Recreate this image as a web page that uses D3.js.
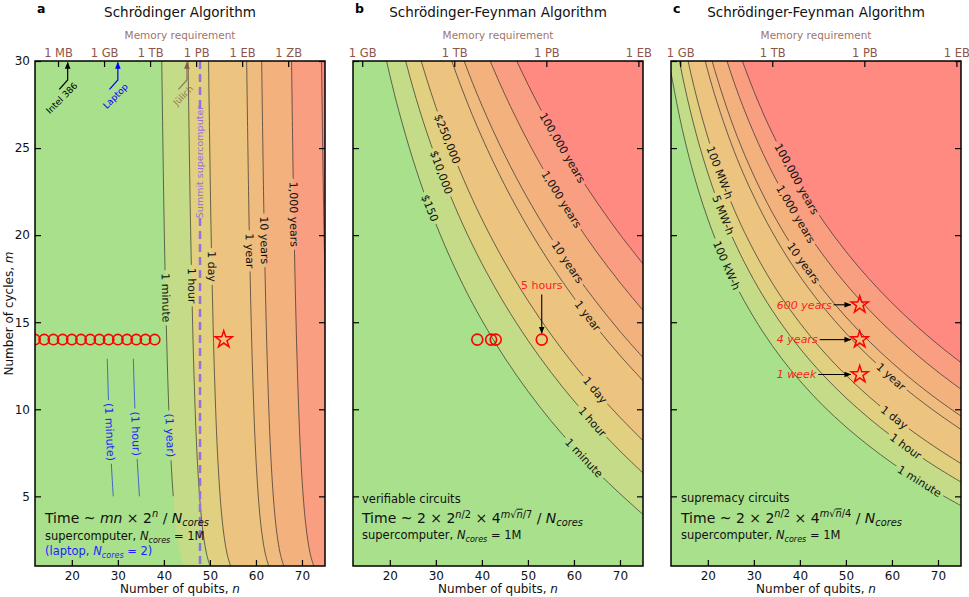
<!DOCTYPE html>
<html>
<head>
<meta charset="utf-8">
<script src="https://cdn.jsdelivr.net/npm/d3@7"></script>
<style>
  body { margin: 0; background: #fff; }
  svg text { font-family: "DejaVu Sans", sans-serif; }
</style>
</head>
<body>
<svg id="fig" width="969" height="597"></svg>
<script>
// ---- data ----
var qubitRange = [12, 75]
var cycleRange = [1, 30]
var qubitTicks = [20, 30, 40, 50, 60, 70]
var cycleTicks = [5, 10, 15, 20, 25, 30]

var memTicksA = [17, 27, 37, 47, 57, 67]
var memLabelsA = ["1 MB", "1 GB", "1 TB", "1 PB", "1 EB", "1 ZB"]
var memTicksBC = [14, 34, 54, 74]
var memLabelsBC = ["1 GB", "1 TB", "1 PB", "1 EB"]

var panelLetters = ["a", "b", "c"]
var panelTitles = ["Schrödinger Algorithm", "Schrödinger-Feynman Algorithm", "Schrödinger-Feynman Algorithm"]
var timeLevels = ["1 minute", "1 hour", "1 day", "1 year", "10 years", "1,000 years", "100,000 years"]
var costLabels = ["$150", "$10,000", "$250,000"]
var energyLabels = ["100 kW-h", "5 MW-h", "100 MW-h"]
var laptopLabels = ["(1 minute)", "(1 hour)", "(1 year)"]

// contour lines [qubits n, cycles m], one per time level
var contoursA = [
  [[39.54,30],[40.10,20],[40.82,12],[41.56,7],[42.35,4],[43.00,2.5],[43.62,1.6],[44.28,1]],
  [[45.25,30],[45.83,20],[46.54,12],[47.28,7],[48.07,4],[48.73,2.5],[49.36,1.6],[50.02,1]],
  [[49.70,30],[50.27,20],[50.99,12],[51.74,7],[52.53,4],[53.19,2.5],[53.81,1.6],[54.48,1]],
  [[57.98,30],[58.56,20],[59.28,12],[60.03,7],[60.82,4],[61.49,2.5],[62.12,1.6],[62.78,1]],
  [[61.24,30],[61.81,20],[62.54,12],[63.29,7],[64.08,4],[64.74,2.5],[65.37,1.6],[66.04,1]],
  [[67.73,30],[68.30,20],[69.03,12],[69.78,7],[70.58,4],[71.25,2.5],[71.87,1.6],[72.54,1]],
  [[74.24,30],[74.81,20],[75.54,12],[76.30,7],[77.10,4],[77.80,2.5],[78.40,1.6],[79.00,1]]
]
var laptopA = [
  [[27.70,12.9],[27.97,10.5],[28.35,8],[29.00,5]],
  [[33.36,12.9],[33.64,10.5],[34.02,8],[34.69,5]]
]
var contoursB = [
  [[16,34.39],[18,31.59],[20,29.19],[22,27.09],[25,24.36],[28,22.02],[32,19.37],[36,17.09],[40,15.11],[45,12.94],[50,11.04],[55,9.34],[60,7.82],[65,6.42],[70,5.15],[75,3.96]],
  [[18,36.46],[20,33.81],[22,31.49],[25,28.49],[28,25.93],[32,23.02],[36,20.53],[40,18.37],[45,16.02],[50,13.96],[55,12.13],[60,10.48],[65,8.99],[70,7.61],[75,6.34]],
  [[20,37.41],[22,34.93],[25,31.71],[28,28.97],[32,25.86],[36,23.22],[40,20.92],[45,18.42],[50,16.24],[55,14.30],[60,12.56],[65,10.98],[70,9.54],[75,8.20]],
  [[25,37.66],[28,34.59],[32,31.12],[36,28.17],[40,25.62],[45,22.85],[50,20.44],[55,18.31],[60,16.40],[65,14.67],[70,13.09],[75,11.64]],
  [[28,36.77],[32,33.16],[36,30.10],[40,27.45],[45,24.58],[50,22.08],[55,19.87],[60,17.89],[65,16.11],[70,14.47],[75,12.97]],
  [[32,37.31],[36,34.01],[40,31.16],[45,28.07],[50,25.39],[55,23.03],[60,20.92],[65,19.01],[70,17.28],[75,15.68]],
  [[36,37.86],[40,34.81],[45,31.52],[50,28.66],[55,26.14],[60,23.90],[65,21.88],[70,20.04],[75,18.35]]
]
var contoursC = [
  [[12,29.33],[14,26.62],[16,24.40],[18,22.53],[20,20.93],[22,19.53],[25,17.72],[28,16.18],[32,14.43],[36,12.93],[40,11.64],[45,10.22],[50,8.99],[55,7.90],[60,6.92],[65,6.03],[70,5.21],[75,4.46]],
  [[12,32.74],[14,29.77],[16,27.35],[18,25.31],[20,23.57],[22,22.04],[25,20.08],[28,18.41],[32,16.51],[36,14.90],[40,13.50],[45,11.98],[50,10.66],[55,9.49],[60,8.44],[65,7.49],[70,6.62],[75,5.82]],
  [[14,32.23],[16,29.65],[18,27.48],[20,25.62],[22,24.01],[25,21.92],[28,20.15],[32,18.14],[36,16.43],[40,14.96],[45,13.35],[50,11.96],[55,10.73],[60,9.63],[65,8.63],[70,7.72],[75,6.88]],
  [[18,31.49],[20,29.43],[22,27.63],[25,25.32],[28,23.36],[32,21.15],[36,19.27],[40,17.64],[45,15.89],[50,14.37],[55,13.03],[60,11.83],[65,10.74],[70,9.75],[75,8.84]],
  [[18,33.05],[20,30.90],[22,29.04],[25,26.64],[28,24.61],[32,22.31],[36,20.37],[40,18.69],[45,16.87],[50,15.30],[55,13.92],[60,12.68],[65,11.56],[70,10.54],[75,9.61]],
  [[20,33.90],[22,31.89],[25,29.32],[28,27.14],[32,24.68],[36,22.60],[40,20.81],[45,18.87],[50,17.19],[55,15.72],[60,14.41],[65,13.22],[70,12.14],[75,11.15]],
  [[22,34.71],[25,31.96],[28,29.64],[32,27.01],[36,24.80],[40,22.89],[45,20.84],[50,19.06],[55,17.50],[60,16.11],[65,14.86],[70,13.72],[75,12.68]]
]

var circlesA = [12, 14, 16, 18, 20, 22, 24, 26, 28, 30, 32, 34, 36, 38]
var circlesB = [39, 42, 43, 53]
var circleCycles = 14
var starA = [53, 14]
var starsC = [[53, 16], [53, 14], [53, 12]]
var starLabelsC = ["600 years", "4 years", "1 week"]
var summitQubits = 47.85
var machines = ["Intel 386", "Laptop", "Jülich"]
var machineQubits = [19.1, 30, 45]

// ---- styles ----
var bandColors = ["#a8e08c", "#c4dc88", "#e0d07f", "#edc380", "#efbb7f", "#f3b17e", "#f99e80", "#ff8a82"]
var brown = "#8c564b"
var machineColors = ["#000", "#0000ff", brown]

var W = 290, H = 505, TOP = 61
var panelLeft = [35, 353, 671]

var x = d3.scaleLinear().domain(qubitRange).range([0, W])
var y = d3.scaleLinear().domain(cycleRange).range([H, 0])
var line = d3.line().x(d => x(d[0])).y(d => y(d[1])).curve(d3.curveCatmullRom)

var svg = d3.select("#fig")
var defs = svg.append("defs")

function arrowMarker(id, color) {
    defs.append("marker").attr("id", id)
        .attr("viewBox", "0 0 10 10").attr("refX", 9).attr("refY", 5)
        .attr("markerWidth", 7).attr("markerHeight", 7)
        .attr("markerUnits", "userSpaceOnUse").attr("orient", "auto")
        .append("path").attr("d", "M0,1L10,5L0,9z").attr("fill", color)
}
arrowMarker("arr0", machineColors[0])
arrowMarker("arr1", machineColors[1])
arrowMarker("arr2", brown)

defs.append("clipPath").attr("id", "clipAbove5")
    .append("rect").attr("width", W).attr("height", y(5))

function pointAt(pts, key, v) {
    for (var j = 0; j < pts.length - 1; j++) {
        var a = pts[j][key], b = pts[j + 1][key]
        if ((v - a) * (v - b) <= 0) {
            var t = (v - a) / (b - a)
            var n = pts[j][0] + t * (pts[j + 1][0] - pts[j][0])
            var m = pts[j][1] + t * (pts[j + 1][1] - pts[j][1])
            var ang = Math.atan2(y(pts[j + 1][1]) - y(pts[j][1]), x(pts[j + 1][0]) - x(pts[j][0])) * 180 / Math.PI
            return {px: x(n), py: y(m), ang: ang}
        }
    }
    return null
}

// text with italics, super- and subscripts
function rich(sel, px, py, size, color, parts) {
    var t = sel.append("text").attr("x", px).attr("y", py)
        .attr("font-size", size).attr("fill", color)
    var shift = 0
    parts.forEach(function(p) {
        var s = p[1] || ""
        var ts = t.append("tspan").text(p[0])
        var target = 0
        if (s.indexOf("sup") >= 0) target = -0.4 * size
        if (s.indexOf("sub") >= 0) target = 0.22 * size
        if (target - shift !== 0) ts.attr("dy", target - shift)
        shift = target
        if (target !== 0) ts.attr("font-size", size * 0.7)
        if (s[0] === "i") ts.attr("font-style", "italic")
        if (s.indexOf("ov") >= 0) ts.attr("text-decoration", "overline")
    })
    return t
}

function drawPanel(i, cfg) {
    var g = svg.append("g").attr("transform", `translate(${panelLeft[i]},${TOP})`)
    defs.append("clipPath").attr("id", "clip" + i)
        .append("rect").attr("width", W).attr("height", H)

    var plot = g.append("g").attr("clip-path", `url(#clip${i})`)
    plot.append("rect").attr("width", W).attr("height", H).attr("fill", bandColors[0])

    // filled bands: region above/right of each contour
    cfg.contours.forEach(function(pts, k) {
        var first = pts[0], last = pts[pts.length - 1]
        var d = line(pts) +
            "L" + x(90) + "," + y(last[1]) +
            "L" + x(90) + "," + y(40) +
            "L" + x(first[0]) + "," + y(40) + "Z"
        plot.append("path").attr("d", d).attr("fill", bandColors[k + 1])
    })

    // contour lines with gaps under their labels
    var mask = defs.append("mask").attr("id", "mask" + i)
        .attr("maskUnits", "userSpaceOnUse")
        .attr("x", -5).attr("y", -5).attr("width", W + 10).attr("height", H + 10)
    mask.append("rect").attr("x", -5).attr("y", -5)
        .attr("width", W + 10).attr("height", H + 10).attr("fill", "white")
    var lines = plot.append("g").attr("mask", `url(#mask${i})`)
    cfg.contours.forEach(function(pts, k) {
        lines.append("path").attr("d", line(pts))
            .attr("fill", "none").attr("stroke", "#2b2b2b")
            .attr("stroke-width", 0.8).attr("stroke-opacity", 0.85)
            .attr("clip-path", cfg.shortLine === k ? "url(#clipAbove5)" : null)
    })
    ;(cfg.extraLines || []).forEach(function(pts) {
        lines.append("path").attr("d", line(pts))
            .attr("fill", "none").attr("stroke", "#2040e0")
            .attr("stroke-width", 0.9).attr("stroke-opacity", 0.85)
    })

    cfg.labels.forEach(function(lb) {
        var p = pointAt(lb.pts, lb.key, lb.at)
        if (!p) return
        var tr = `translate(${p.px},${p.py}) rotate(${p.ang})`
        var t = plot.append("text").attr("transform", tr)
            .attr("text-anchor", "middle").attr("dy", "0.35em")
            .attr("font-size", 11).attr("fill", lb.color || "#111")
            .text(lb.text)
        var w = t.node().getComputedTextLength()
        mask.append("rect").attr("transform", tr)
            .attr("x", -w / 2 - 3).attr("y", -6).attr("width", w + 6).attr("height", 12)
            .attr("fill", "black")
    })

    if (cfg.extra) cfg.extra(g, plot)

    // axes, ticks pointing inward
    var bottom = g.append("g").attr("transform", `translate(0,${H})`)
        .call(d3.axisBottom(x).tickValues(qubitTicks).tickSizeInner(-6).tickSizeOuter(0).tickPadding(5))
    var left = g.append("g")
        .call(d3.axisLeft(y).tickValues(cycleTicks).tickSizeInner(-6).tickSizeOuter(0).tickPadding(5)
            .tickFormat(i === 0 ? d3.format("d") : ""))
    var right = g.append("g").attr("transform", `translate(${W},0)`)
        .call(d3.axisRight(y).tickValues(cycleTicks).tickSizeInner(-6).tickSizeOuter(0).tickFormat(""))
    var top = g.append("g")
        .call(d3.axisTop(x).tickValues(cfg.memTicks).tickSizeInner(-6).tickSizeOuter(0).tickPadding(4)
            .tickFormat((d, j) => cfg.memLabels[j]))
    ;[bottom, left, right, top].forEach(function(ax) {
        ax.select(".domain").remove()
        ax.selectAll(".tick line").attr("stroke", "#000").attr("stroke-width", 1.2)
        ax.selectAll("text").attr("font-size", 12).attr("fill", "#111")
    })
    top.selectAll("text").attr("fill", brown).attr("font-size", 11.5)

    g.append("rect").attr("width", W).attr("height", H)
        .attr("fill", "none").attr("stroke", "#000").attr("stroke-width", 1.5)

    // titles and axis labels
    g.append("text").attr("x", 2).attr("y", 12.5 - TOP)
        .attr("font-size", 12.5).attr("font-weight", "bold").text(panelLetters[i])
    g.append("text").attr("x", W / 2).attr("y", 16.5 - TOP).attr("text-anchor", "middle")
        .attr("font-size", 13.5).attr("fill", "#111").text(panelTitles[i])
    g.append("text").attr("x", W / 2).attr("y", 39 - TOP).attr("text-anchor", "middle")
        .attr("font-size", 10.5).attr("fill", brown).attr("fill-opacity", 0.85)
        .text("Memory requirement")
    var xl = rich(g, W / 2, 593 - TOP, 12, "#111", [["Number of qubits, "], ["n", "i"]])
    xl.attr("text-anchor", "middle")
}

// ---- panel a ----
drawPanel(0, {
    contours: contoursA,
    extraLines: laptopA,
    shortLine: 0,
    memTicks: memTicksA, memLabels: memLabelsA,
    labels: [
        {pts: contoursA[0], key: 1, at: 16.4, text: timeLevels[0]},
        {pts: contoursA[1], key: 1, at: 17.1, text: timeLevels[1]},
        {pts: contoursA[2], key: 1, at: 18.2, text: timeLevels[2]},
        {pts: contoursA[3], key: 1, at: 19.1, text: timeLevels[3]},
        {pts: contoursA[4], key: 1, at: 19.7, text: timeLevels[4]},
        {pts: contoursA[5], key: 1, at: 21.2, text: timeLevels[5]},
        {pts: laptopA[0], key: 1, at: 8.7, text: laptopLabels[0], color: "#1f1fff"},
        {pts: laptopA[1], key: 1, at: 8.6, text: laptopLabels[1], color: "#1f1fff"},
        {pts: contoursA[0], key: 1, at: 8.5, text: laptopLabels[2], color: "#1f1fff"}
    ],
    extra: function(g, plot) {
        // Summit memory limit
        var sx = x(summitQubits)
        plot.append("line").attr("x1", sx).attr("x2", sx).attr("y1", 0).attr("y2", 49)
            .attr("stroke", "#9370db").attr("stroke-width", 2.5).attr("stroke-dasharray", "8,5")
        plot.append("line").attr("x1", sx).attr("x2", sx).attr("y1", 157).attr("y2", H)
            .attr("stroke", "#9370db").attr("stroke-width", 2.5).attr("stroke-dasharray", "8,5")
        plot.append("text").attr("transform", `translate(${sx},101) rotate(-90)`)
            .attr("text-anchor", "middle").attr("dy", "0.35em")
            .attr("font-size", 9.5).attr("fill", "#9370db").text("Summit supercomputer")

        // machines with memory arrows
        var labelShift = [[-6, 37], [-2.4, 35], [-3.7, 34.5]]
        machines.forEach(function(name, j) {
            var tx = x(machineQubits[j])
            g.append("path")
                .attr("d", `M${tx - 8.4},28.3L${tx},19L${tx},1.5`)
                .attr("fill", "none").attr("stroke", machineColors[j]).attr("stroke-width", 1.2)
                .attr("stroke-opacity", j === 2 ? 0.8 : 1)
                .attr("marker-end", `url(#arr${j})`)
            g.append("text")
                .attr("transform", `translate(${tx + labelShift[j][0]},${labelShift[j][1]}) rotate(-45)`)
                .attr("text-anchor", "middle").attr("dy", "0.35em")
                .attr("font-size", 9).attr("fill", machineColors[j])
                .attr("fill-opacity", j === 2 ? 0.8 : 1).text(name)
        })

        plot.selectAll(".run").data(circlesA).enter().append("circle")
            .attr("cx", d => x(d)).attr("cy", y(circleCycles)).attr("r", 5.2)
            .attr("fill", "none").attr("stroke", "#ff0000").attr("stroke-width", 1.6)
        plot.append("path").attr("d", d3.symbol().type(d3.symbolStar).size(90)())
            .attr("transform", `translate(${x(starA[0])},${y(starA[1])})`)
            .attr("fill", "none").attr("stroke", "#ff0000").attr("stroke-width", 1.5)

        rich(g, 10, 462, 14, "#111",
            [["Time ~ "], ["mn", "i"], [" × 2"], ["n", "isup"], [" / "], ["N", "i"], ["cores", "isub"]])
        rich(g, 10, 479, 11.5, "#111",
            [["supercomputer, "], ["N", "i"], ["cores", "isub"], [" = 1M"]])
        rich(g, 10, 494, 11.5, "#1f1fff",
            [["(laptop, "], ["N", "i"], ["cores", "isub"], [" = 2)"]])

        var yl = rich(g, 0, 0, 12, "#111", [["Number of cycles, "], ["m", "i"]])
        yl.attr("x", null).attr("y", null).attr("text-anchor", "middle")
            .attr("transform", `translate(${13 - panelLeft[0]},${H / 2}) rotate(-90)`)
    }
})

// ---- panel b ----
drawPanel(1, {
    contours: contoursB,
    memTicks: memTicksBC, memLabels: memLabelsBC,
    labels: [
        {pts: contoursB[0], key: 0, at: 62.2, text: timeLevels[0]},
        {pts: contoursB[1], key: 0, at: 64.0, text: timeLevels[1]},
        {pts: contoursB[2], key: 0, at: 64.6, text: timeLevels[2]},
        {pts: contoursB[3], key: 0, at: 63.0, text: timeLevels[3]},
        {pts: contoursB[4], key: 0, at: 58.6, text: timeLevels[4]},
        {pts: contoursB[5], key: 0, at: 57.3, text: timeLevels[5]},
        {pts: contoursB[6], key: 0, at: 57.5, text: timeLevels[6]},
        {pts: contoursB[0], key: 0, at: 28.7, text: costLabels[0]},
        {pts: contoursB[1], key: 0, at: 31.2, text: costLabels[1]},
        {pts: contoursB[2], key: 0, at: 32.5, text: costLabels[2]}
    ],
    extra: function(g, plot) {
        plot.selectAll(".run").data(circlesB).enter().append("circle")
            .attr("cx", d => x(d)).attr("cy", y(circleCycles)).attr("r", 5.5)
            .attr("fill", "none").attr("stroke", "#ff0000").attr("stroke-width", 1.6)
        var cx = x(53), cy = y(circleCycles)
        plot.append("text").attr("x", cx).attr("y", cy - 50.5).attr("text-anchor", "middle")
            .attr("font-size", 11).attr("fill", "#ff2020").text("5 hours")
        plot.append("line").attr("x1", cx).attr("x2", cx).attr("y1", cy - 45).attr("y2", cy - 6.5)
            .attr("stroke", "#000").attr("stroke-width", 1.1).attr("marker-end", "url(#arr0)")

        rich(g, 9, 441.7, 11.5, "#111", [["verifiable circuits"]])
        rich(g, 9, 462.3, 14, "#111",
            [["Time ~ 2 × 2"], ["n", "isup"], ["/2", "sup"], [" × 4"], ["m", "isup"], ["√", "sup"],
             ["n", "isupov"], ["/7", "sup"], [" / "], ["N", "i"], ["cores", "isub"]])
        rich(g, 9, 478.3, 11.5, "#111",
            [["supercomputer, "], ["N", "i"], ["cores", "isub"], [" = 1M"]])
    }
})

// ---- panel c ----
drawPanel(2, {
    contours: contoursC,
    memTicks: memTicksBC, memLabels: memLabelsBC,
    labels: [
        {pts: contoursC[0], key: 0, at: 66.0, text: timeLevels[0]},
        {pts: contoursC[1], key: 0, at: 63.0, text: timeLevels[1]},
        {pts: contoursC[2], key: 0, at: 60.5, text: timeLevels[2]},
        {pts: contoursC[3], key: 0, at: 59.8, text: timeLevels[3]},
        {pts: contoursC[4], key: 0, at: 40.8, text: timeLevels[4]},
        {pts: contoursC[5], key: 0, at: 39.1, text: timeLevels[5]},
        {pts: contoursC[6], key: 0, at: 39.3, text: timeLevels[6]},
        {pts: contoursC[0], key: 0, at: 24.1, text: energyLabels[0]},
        {pts: contoursC[1], key: 0, at: 23.35, text: energyLabels[1]},
        {pts: contoursC[2], key: 0, at: 22.6, text: energyLabels[2]}
    ],
    extra: function(g, plot) {
        starsC.forEach(function(s, j) {
            var sx = x(s[0]), sy = y(s[1])
            plot.append("path").attr("d", d3.symbol().type(d3.symbolStar).size(90)())
                .attr("transform", `translate(${sx},${sy})`)
                .attr("fill", "none").attr("stroke", "#ff0000").attr("stroke-width", 1.5)
            var t = plot.append("text").attr("x", x(35)).attr("y", sy).attr("dy", "0.35em")
                .attr("font-size", 11).attr("font-style", "italic").attr("fill", "#ff2020")
                .text(starLabelsC[j])
            var end = x(35) + t.node().getComputedTextLength()
            plot.append("line").attr("x1", end + 2).attr("x2", sx - 9).attr("y1", sy).attr("y2", sy)
                .attr("stroke", "#000").attr("stroke-width", 1.1).attr("marker-end", "url(#arr0)")
        })

        rich(g, 10, 441, 11.5, "#111", [["supremacy circuits"]])
        rich(g, 10, 462, 14, "#111",
            [["Time ~ 2 × 2"], ["n", "isup"], ["/2", "sup"], [" × 4"], ["m", "isup"], ["√", "sup"],
             ["n", "isupov"], ["/4", "sup"], [" / "], ["N", "i"], ["cores", "isub"]])
        rich(g, 10, 478, 11.5, "#111",
            [["supercomputer, "], ["N", "i"], ["cores", "isub"], [" = 1M"]])
    }
})
</script>
</body>
</html>
